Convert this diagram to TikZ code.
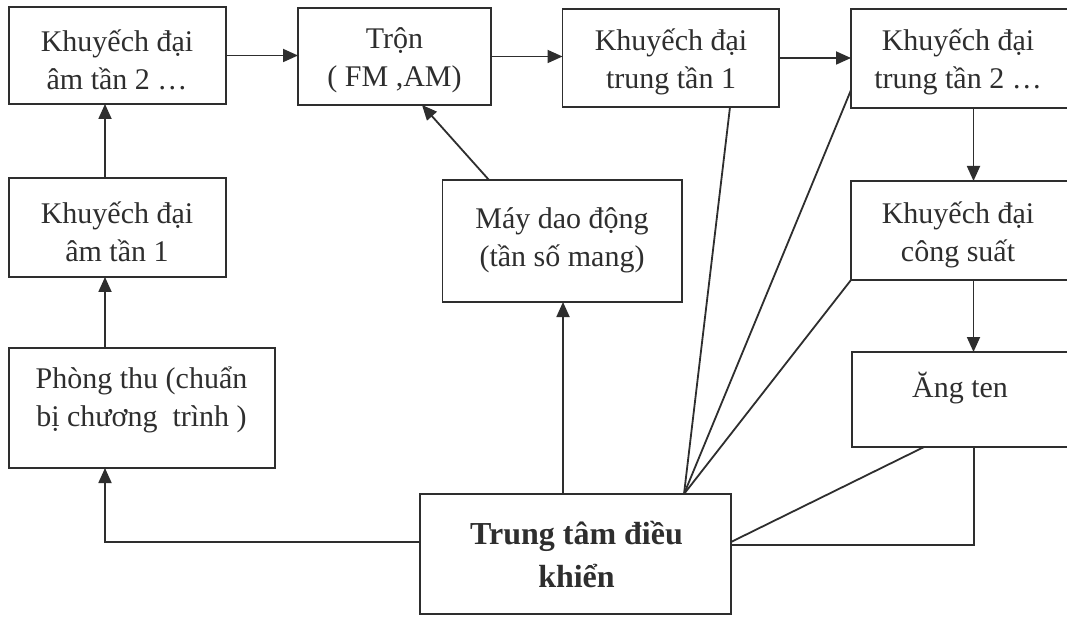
\documentclass[tikz,border=0pt]{standalone}
\usepackage{fontspec}
\setmainfont{Liberation Serif}
\usetikzlibrary{arrows.meta}
\definecolor{ink}{HTML}{2E2E2E}
\begin{document}
\begin{tikzpicture}[x=1pt,y=-1pt,
  box/.style={draw=ink, line width=1.8pt, rectangle, inner sep=0pt, outer sep=0pt},
  txt/.style={text=ink, font=\fontsize{30}{38}\selectfont, align=center, inner sep=0pt},
  btxt/.style={text=ink, font=\fontsize{32}{43}\selectfont\bfseries, align=center, inner sep=0pt},
  arr/.style={draw=ink, line width=1.8pt, -{Triangle[length=15pt,width=13pt]}},
  ln/.style={draw=ink, line width=1.8pt}]
\useasboundingbox[fill=white] (0,0) rectangle (1067,617);
% boxes
\node[box, minimum width=217.4pt, minimum height=97pt] (a2) at (117.3,55.5) {};
\node[box, minimum width=193pt, minimum height=97pt] (tron) at (394.5,56.5) {};
\node[box, minimum width=216.5pt, minimum height=98pt] (tt1) at (670.75,58) {};
\node[box, minimum width=219pt, minimum height=99pt] (tt2) at (960.5,58.5) {};
\node[box, minimum width=217.4pt, minimum height=99pt] (a1) at (117.3,227.5) {};
\node[box, minimum width=239.5pt, minimum height=122pt] (may) at (562.25,241) {};
\node[box, minimum width=219pt, minimum height=99pt] (cs) at (960.5,230.5) {};
\node[box, minimum width=266.4pt, minimum height=120pt] (phong) at (141.8,408) {};
\node[box, minimum width=218pt, minimum height=95pt] (ang) at (961,399.5) {};
\node[box, minimum width=311pt, minimum height=120pt] (ctrl) at (575.5,554) {};
% texts
\node[txt] (a2t) at (117,60) {Khuyếch đại\\âm tần 2 …};
\node[txt] (tront) at (394.5,60) {Trộn\\( FM ,AM)};
\node[txt] (tt1t) at (671,62) {Khuyếch đại\\trung tần 1};
\node[txt] (tt2t) at (958,62) {Khuyếch đại\\trung tần 2 …};
\node[txt] (a1t) at (117,232) {Khuyếch đại\\âm tần 1};
\node[txt] (mayt) at (562,240) {Máy dao động\\(tần số mang)};
\node[txt] (cst) at (958,235) {Khuyếch đại\\công suất};
\node[txt] (phongt) at (141.5,400) {Phòng thu (chuẩn\\bị chương~ trình )};
\node[txt] (angt) at (960,388) {Ăng ten};
\node[btxt] (ctrlt) at (576.5,555) {Trung tâm điều\\khiển};
% arrows
\draw[arr] (a2.east) -- (a2.east -| tron.west);
\draw[arr] (tron.east) -- (tron.east -| tt1.west);
\draw[arr] (tt1.east) -- (tt1.east -| tt2.west);
\draw[arr] (tt2.south -| 973.5,0) -- (cs.north -| 973.5,0);
\draw[arr] (cs.south -| 973.5,0) -- (ang.north -| 973.5,0);
\draw[arr] (a1.north -| 105,0) -- (a2.south -| 105,0);
\draw[arr] (phong.north -| 105,0) -- (a1.south -| 105,0);
\draw[arr] (may.north -| 489,0) -- (tron.south -| 422,0);
\draw[arr] (ctrl.north -| 563,0) -- (may.south -| 563,0);
\draw[arr] (ctrl.west |- 0,542) -- (105,542) -- (phong.south -| 105,0);
% control lines
\coordinate (hub) at (ctrl.north -| 684,0);
\draw[ln] (tt1.south -| 730,0) -- (hub);
\draw[ln] (tt2.west |- 0,90) -- (hub);
\draw[ln] (cs.south west) -- (hub);
\draw[ln] (ang.south -| 924,0) -- (ctrl.east |- 0,542);
\draw[ln] (ang.south -| 974,0) |- (ctrl.east |- 0,545);
\end{tikzpicture}
\end{document}
